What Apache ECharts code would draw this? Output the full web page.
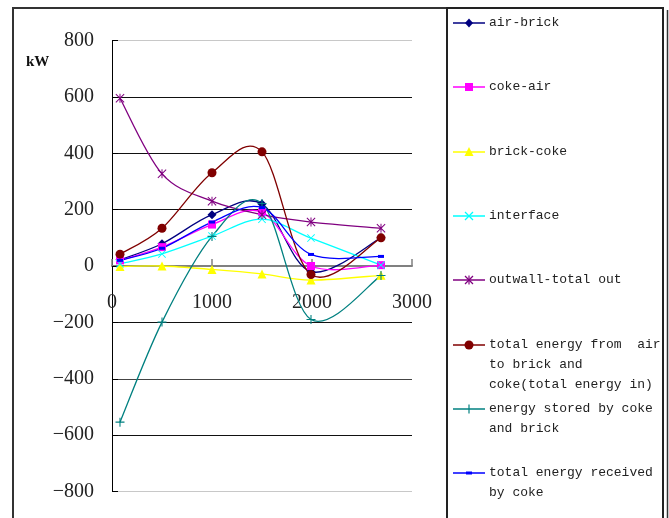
<!DOCTYPE html>
<html>
<head>
<meta charset="utf-8">
<script src="https://cdn.jsdelivr.net/npm/echarts@6/dist/echarts.min.js"></script>
<style>
  html, body { margin: 0; padding: 0; background: #fff; }
  #chart { width: 669px; height: 518px; }
</style>
</head>
<body>
<div id="chart"></div>
<script>
// Heights (x) and energy terms in kW
const positions = [80, 500, 1000, 1500, 1990, 2690];
const airBrick = [22, 79, 182, 220, -20, 100];
const cokeAir = [20, 67, 147, 191, 0, 3];
const brickCoke = [-2, 0, -12, -28, -50, -33];
const interfaceFlux = [8, 43, 106, 166, 99, 3];
const outwallOut = [595, 327, 230, 182, 156, 134];
const totalIn = [42, 134, 331, 405, -30, 100];
const storedCokeBrick = [-554, -199, 105, 222, -190, -34];
const receivedByCoke = [20, 63, 156, 207, 41, 34];

const xTicks = [0, 1000, 2000, 3000];
const yTicks = [-800, -600, -400, -200, 0, 200, 400, 600, 800];

const seriesNames = [
  'air-brick',
  'coke-air',
  'brick-coke',
  'interface',
  'outwall-total out',
  'total energy from  air\nto brick and\ncoke(total energy in)',
  'energy stored by coke\nand brick',
  'total energy received\nby coke'
];

// Marker outlines drawn as thin filled shapes
const PATH_X = 'M0,0.8L0.8,0L5,4.2L9.2,0L10,0.8L5.8,5L10,9.2L9.2,10L5,5.8L0.8,10L0,9.2L4.2,5Z';
const PATH_STAR = PATH_X + 'M4.45,0H5.55V10H4.45Z';
const PATH_PLUS = 'M4.4,0H5.6V4.4H10V5.6H5.6V10H4.4V5.6H0V4.4H4.4Z';

const styles = [
  { color: '#000080', symbol: 'diamond', size: 9, kind: 'diamond' },
  { color: '#FF00FF', symbol: 'rect', size: 8, kind: 'square' },
  { color: '#FFFF00', symbol: 'triangle', size: 9, kind: 'triangle' },
  { color: '#00FFFF', symbol: 'path://' + PATH_X, size: 8, kind: 'x' },
  { color: '#800080', symbol: 'path://' + PATH_STAR, size: 9, kind: 'star' },
  { color: '#800000', symbol: 'circle', size: 9, kind: 'circle' },
  { color: '#008080', symbol: 'path://' + PATH_PLUS, size: 9, kind: 'plus' },
  { color: '#0000FF', symbol: 'rect', size: [6, 3], kind: 'dash' }
];

const valueSets = [airBrick, cokeAir, brickCoke, interfaceFlux, outwallOut, totalIn, storedCokeBrick, receivedByCoke];

// Smoothed connecting curve: cubic Bezier segments with 1/6 tangents (Catmull-Rom style),
// positioned through the axis scales with api.coord.
function curveSeries(name, vals, color) {
  const pts = positions.map((x, j) => [x, vals[j]]);
  return {
    name: name,
    type: 'custom',
    data: pts,
    encode: { x: 0, y: 1 },
    silent: true,
    animation: false,
    renderItem: function (params, api) {
      const i = params.dataIndex;
      const n = pts.length;
      if (i >= n - 1) return { type: 'group', children: [] };
      const at = k => api.coord(pts[Math.max(0, Math.min(n - 1, k))]);
      const p0 = at(i - 1), p1 = at(i), p2 = at(i + 1), p3 = at(i + 2);
      return {
        type: 'bezierCurve',
        shape: {
          x1: p1[0], y1: p1[1],
          cpx1: p1[0] + (p2[0] - p0[0]) / 6, cpy1: p1[1] + (p2[1] - p0[1]) / 6,
          cpx2: p2[0] - (p3[0] - p1[0]) / 6, cpy2: p2[1] - (p3[1] - p1[1]) / 6,
          x2: p2[0], y2: p2[1]
        },
        style: { stroke: color, lineWidth: 1.3, fill: 'none' }
      };
    }
  };
}

function markerSeries(name, vals, st) {
  return {
    name: name + ' ',
    type: 'line',
    data: positions.map((x, j) => [x, vals[j]]),
    symbol: st.symbol,
    symbolSize: st.size,
    showSymbol: true,
    lineStyle: { width: 0, opacity: 0 },
    itemStyle: { color: st.color, borderWidth: 0 },
    emphasis: { disabled: true },
    silent: true,
    animation: false
  };
}

const series = [];
valueSets.forEach((vals, i) => {
  series.push(curveSeries(seriesNames[i], vals, styles[i].color));
  series.push(markerSeries(seriesNames[i], vals, styles[i]));
});

// Legend panel on the right
const legendTop = [23, 87, 152, 216, 280, 345, 409, 473];
const legendGraphics = [];
function seg(x1, y1, x2, y2, c) {
  return { type: 'line', shape: { x1, y1, x2, y2 }, style: { stroke: c, lineWidth: 1.2 }, silent: true };
}
seriesNames.forEach((name, i) => {
  const yc = legendTop[i];
  const c = styles[i].color;
  const cx = 469;
  legendGraphics.push({
    type: 'line', shape: { x1: 453, y1: yc, x2: 485, y2: yc },
    style: { stroke: c, lineWidth: 1.5 }, silent: true
  });
  const k = styles[i].kind;
  if (k === 'diamond') {
    legendGraphics.push({ type: 'polygon', shape: { points: [[cx, yc - 4.5], [cx + 4, yc], [cx, yc + 4.5], [cx - 4, yc]] }, style: { fill: c } });
  } else if (k === 'square') {
    legendGraphics.push({ type: 'rect', shape: { x: cx - 4, y: yc - 4, width: 8, height: 8 }, style: { fill: c } });
  } else if (k === 'triangle') {
    legendGraphics.push({ type: 'polygon', shape: { points: [[cx, yc - 5], [cx + 4.5, yc + 4], [cx - 4.5, yc + 4]] }, style: { fill: c } });
  } else if (k === 'circle') {
    legendGraphics.push({ type: 'circle', shape: { cx: cx, cy: yc, r: 4.5 }, style: { fill: c } });
  } else if (k === 'dash') {
    legendGraphics.push({ type: 'rect', shape: { x: cx - 3, y: yc - 1.5, width: 6, height: 3 }, style: { fill: c } });
  } else if (k === 'x') {
    legendGraphics.push(seg(cx - 4, yc - 4, cx + 4, yc + 4, c), seg(cx + 4, yc - 4, cx - 4, yc + 4, c));
  } else if (k === 'star') {
    legendGraphics.push(seg(cx - 4, yc - 4, cx + 4, yc + 4, c), seg(cx + 4, yc - 4, cx - 4, yc + 4, c), seg(cx, yc - 4.5, cx, yc + 4.5, c));
  } else if (k === 'plus') {
    legendGraphics.push(seg(cx, yc - 4.5, cx, yc + 4.5, c));
  }
  legendGraphics.push({
    type: 'text', x: 489, y: yc - 10,
    style: {
      text: name, fill: '#222', font: '13px "Liberation Mono", monospace',
      lineHeight: 20, verticalAlign: 'top', align: 'left'
    }
  });
});

// Plain numbers with a typographic minus sign
const tickText = v => String(v).replace('-', '\u2212');

const gridTop = 40.5, gridBottom = 26.5;
const plotHeight = 518 - gridTop - gridBottom;
// Horizontal axis is drawn through the zero level
const zeroShift = plotHeight * (0 - yTicks[0]) / (yTicks[yTicks.length - 1] - yTicks[0]);

const chart = echarts.init(document.getElementById('chart'), null, { renderer: 'canvas' });
chart.setOption({
  backgroundColor: '#ffffff',
  animation: false,
  grid: { left: 112, right: 257, top: gridTop, bottom: gridBottom, containLabel: false, outerBoundsMode: 'none' },
  xAxis: {
    type: 'value', min: xTicks[0], max: xTicks[xTicks.length - 1], interval: 1000,
    position: 'bottom', offset: -zeroShift,
    axisLine: { onZero: false, lineStyle: { color: '#808080', width: 2 } },
    axisTick: { inside: true, length: 7, lineStyle: { color: '#808080', width: 1.5 } },
    axisLabel: { margin: 27, color: '#222', fontSize: 20, fontFamily: '"Liberation Serif", serif', formatter: tickText },
    splitLine: { show: false }
  },
  yAxis: {
    type: 'value', min: yTicks[0], max: yTicks[yTicks.length - 1], interval: 200,
    axisLine: { show: true, lineStyle: { color: '#000', width: 1 } },
    axisTick: { show: true, inside: true, length: 6, lineStyle: { color: '#000' } },
    axisLabel: { margin: 18, color: '#222', fontSize: 20, fontFamily: '"Liberation Serif", serif', formatter: tickText },
    splitLine: {
      show: true,
      lineStyle: { width: 1, color: ['#c8c8c8', '#111', '#444', '#111', '#111', '#111', '#111', '#111', '#c8c8c8'] }
    }
  },
  tooltip: { show: false },
  series: series,
  graphic: [
    { type: 'rect', shape: { x: 13, y: 8, width: 434, height: 530 }, style: { fill: 'none', stroke: '#333', lineWidth: 2 }, silent: true, z: -1 },
    { type: 'rect', shape: { x: 447, y: 8, width: 216, height: 530 }, style: { fill: 'none', stroke: '#222', lineWidth: 2 }, silent: true, z: -1 },
    { type: 'line', shape: { x1: 667.5, y1: 10, x2: 667.5, y2: 518 }, style: { stroke: '#333', lineWidth: 1.5 }, silent: true },
    { type: 'text', x: 26, y: 62, style: { text: 'kW', fill: '#111', font: 'bold 15px "Liberation Serif", serif', verticalAlign: 'middle' } }
  ].concat(legendGraphics)
});
</script>
</body>
</html>
